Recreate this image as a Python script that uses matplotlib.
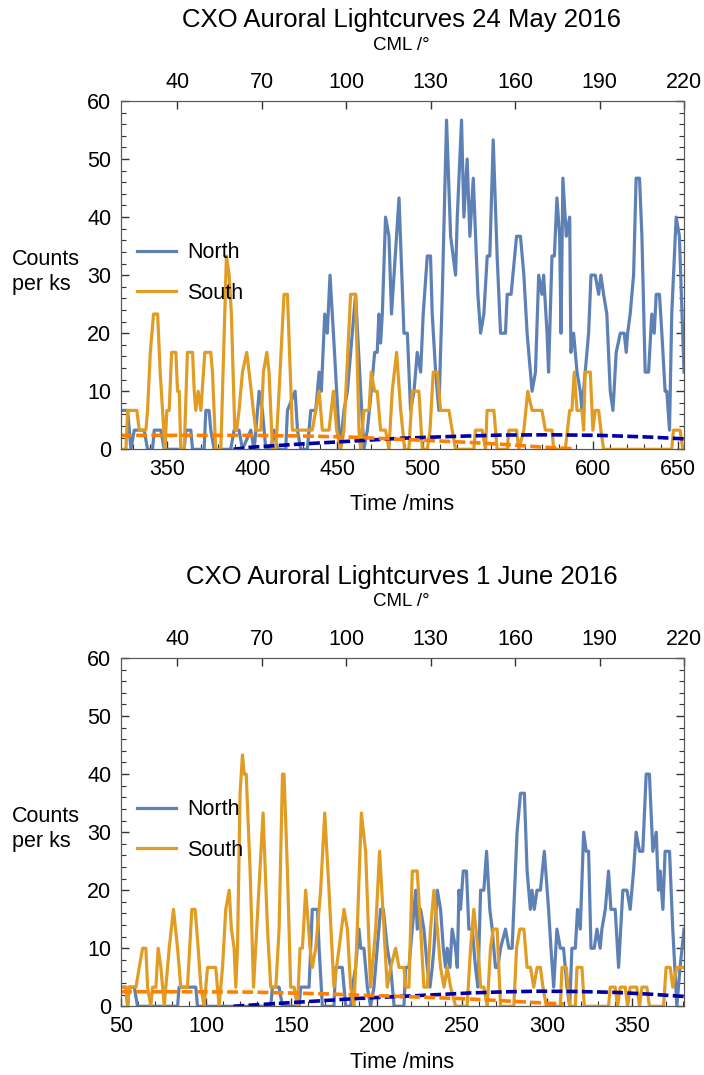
import numpy as np
import matplotlib
matplotlib.use("Agg")
import matplotlib.pyplot as plt
from matplotlib.ticker import MultipleLocator

plt.rcParams['font.family'] = ['Liberation Sans', 'DejaVu Sans']

# (time in mins, counts per ks) vertices
north_may = [(323.0, 6.7), (326.9, 6.7), (328.8, 0), (330.8, 3.3), (336.6, 3.3), (338.6, 0), (341.5, 0),
             (342.5, 3.3), (346.4, 3.3), (348.4, 0), (360.1, 0), (361.1, 3.3), (364.0, 3.3), (365.0, 0),
             (371.8, 0), (372.8, 6.7), (374.7, 6.7), (375.7, 3.3), (377.7, 0), (387.4, 0), (389.4, 3.3),
             (392.3, 3.3), (394.3, 0), (399.2, 3.3), (401.2, 0), (404.1, 10), (406.0, 6.7), (408.0, 0),
             (410.9, 0), (412.9, 3.3), (414.8, 0), (419.7, 0), (420.7, 6.7), (425.2, 10), (426.6, 3.3),
             (428.5, 0), (432.4, 0), (434.4, 6.7), (437.3, 6.7), (439.3, 13.3), (440.6, 10), (442.6, 23.3),
             (444.1, 20), (445.7, 30), (447.7, 20), (449.6, 10), (451.6, 0), (453.9, 6.7), (455.9, 10),
             (457.8, 16.7), (460.7, 26.7), (463.7, 10), (465.6, 0), (467.6, 3.3), (469.9, 10), (471.9, 16.7),
             (473.4, 16.7), (474.4, 23.3), (475.4, 18.3), (476.4, 23.3), (478.3, 40), (480.3, 36.7),
             (481.8, 23.3), (486.2, 43.3), (489.1, 20), (491.1, 20), (493.0, 6.7), (495.0, 10), (496.9, 16.7),
             (498.9, 13.3), (500.4, 23.3), (502.8, 33.3), (504.7, 33.3), (505.7, 23.3), (507.7, 13.3),
             (509.6, 6.7), (511.6, 26.7), (514.1, 56.7), (516.5, 36.7), (519.4, 30), (520.4, 40),
             (522.9, 56.7), (524.3, 40), (526.2, 50), (527.8, 36.7), (529.8, 46.7), (532.5, 26.7),
             (534.1, 20), (536.0, 23.3), (538.0, 33.3), (539.5, 33.3), (541.5, 53.3), (543.8, 33.3),
             (545.8, 20), (548.7, 20), (549.7, 26.7), (552.0, 26.7), (555.2, 36.7), (557.5, 36.7),
             (559.5, 30), (561.4, 20), (564.3, 10), (566.3, 13.3), (568.2, 30), (570.1, 26.7), (571.1, 30),
             (573.1, 20), (574.0, 13.3), (576.0, 33.3), (577.4, 33.3), (578.9, 43.3), (580.5, 36.7),
             (581.3, 20), (582.4, 46.7), (584.4, 36.7), (586.4, 40), (587.1, 16.7), (588.7, 20),
             (590.7, 13.3), (592.6, 10), (593.6, 6.7), (595.5, 13.3), (597.5, 20), (598.9, 30), (601.4, 30),
             (603.4, 26.7), (604.7, 30), (606.3, 26.7), (608.2, 23.3), (610.2, 10), (611.8, 6.7),
             (613.7, 16.7), (616.1, 20), (618.4, 20), (619.6, 16.7), (620.4, 20), (621.9, 23.3), (623.9, 30),
             (625.4, 46.7), (627.4, 46.7), (628.8, 36.7), (630.7, 13.3), (632.7, 13.3), (634.6, 23.3),
             (636.0, 20), (637.2, 26.7), (639.1, 26.7), (640.5, 20), (642.4, 10), (643.4, 10), (645.0, 3.3),
             (646.3, 23.3), (648.9, 40), (650.8, 36.7), (653.5, 13.3)]

south_may = [(323.0, 0), (325.9, 0), (326.9, 6.7), (332.3, 6.7), (333.7, 3.3), (337.6, 3.3), (338.6, 6.7),
             (340.2, 16.7), (342.1, 23.3), (344.5, 23.3), (346.0, 13.3), (348.8, 0), (349.9, 6.7),
             (351.3, 6.7), (352.7, 16.7), (355.2, 16.7), (356.2, 10), (357.2, 10), (358.1, 0), (360.1, 0),
             (362.0, 16.7), (365.0, 16.7), (366.0, 10), (366.9, 6.7), (368.3, 10), (369.9, 6.7),
             (372.2, 16.7), (375.7, 16.7), (376.7, 13.3), (378.6, 0), (381.6, 0), (384.9, 33.3), (386.5, 30),
             (387.8, 23.3), (389.8, 3.3), (390.9, 3.3), (392.3, 6.7), (394.3, 13.3), (396.8, 16.7),
             (398.2, 13.3), (400.7, 6.7), (402.1, 3.3), (405.1, 3.3), (406.6, 13.3), (408.6, 16.7),
             (409.9, 13.3), (411.9, 0), (413.9, 0), (415.8, 10), (418.7, 26.7), (420.7, 26.7), (423.6, 3.3),
             (435.3, 3.3), (439.3, 10), (441.2, 3.3), (445.1, 3.3), (447.7, 10), (449.6, 3.3), (452.0, 0),
             (453.9, 3.3), (457.8, 26.7), (460.7, 26.7), (462.7, 3.3), (463.7, 0), (465.6, 6.7), (468.6, 6.7),
             (469.9, 13.3), (471.9, 10), (473.4, 10), (475.4, 3.3), (478.3, 3.3), (480.3, 0), (482.2, 10),
             (484.8, 16.7), (487.2, 6.7), (489.5, 0), (492.0, 0), (494.0, 10), (497.9, 10), (499.9, 0),
             (502.8, 0), (504.4, 3.3), (506.3, 13.3), (508.7, 13.3), (510.6, 6.7), (515.5, 6.7), (517.4, 3.3),
             (519.4, 0), (530.1, 0), (531.1, 3.3), (535.0, 3.3), (537.0, 0), (537.9, 6.7), (541.9, 6.7),
             (543.8, 0), (549.7, 0), (550.7, 3.3), (555.2, 3.3), (556.5, 0), (559.5, 3.3), (561.8, 10),
             (564.3, 6.7), (570.1, 6.7), (572.1, 3.3), (576.0, 3.3), (577.0, 0), (583.8, 0), (586.4, 6.7),
             (587.7, 6.7), (589.1, 13.3), (590.7, 6.7), (593.6, 6.7), (594.6, 3.3), (595.5, 13.3),
             (598.5, 13.3), (600.0, 3.3), (601.4, 6.7), (603.4, 6.7), (604.7, 3.3), (606.3, 0), (646.3, 0),
             (647.3, 3.3), (651.2, 3.3), (652.8, 0), (653.5, 0)]

north_june = [(50.0, 3.3), (52.9, 3.3), (53.9, 0), (54.8, 3.3), (57.8, 3.3), (59.7, 0), (83.2, 0), (84.1, 3.3),
              (93.9, 3.3), (94.9, 0), (137.9, 0), (138.9, 3.3), (142.8, 3.3), (144.8, 0), (154.5, 0),
              (155.5, 3.3), (160.4, 3.3), (162.3, 16.7), (165.3, 16.7), (166.3, 10), (168.2, 0), (175.0, 0),
              (176.0, 6.7), (179.9, 6.7), (181.9, 0), (184.8, 0), (185.8, 3.3), (187.7, 6.7), (189.7, 13.3),
              (190.7, 10), (192.6, 10), (194.6, 3.3), (196.5, 0), (198.5, 3.3), (200.4, 10), (202.4, 16.7),
              (204.0, 16.7), (206.3, 10), (208.3, 6.7), (210.3, 0), (216.1, 0), (217.1, 6.7), (219.0, 6.7),
              (221.0, 13.3), (223.0, 20), (223.9, 13.3), (225.9, 16.7), (227.8, 13.3), (229.8, 6.7),
              (231.4, 3.3), (232.7, 6.7), (233.7, 10), (235.7, 20), (237.6, 16.7), (239.2, 10), (240.5, 6.7),
              (241.5, 10), (243.1, 6.7), (244.4, 13.3), (246.4, 10), (247.4, 6.7), (248.4, 20), (249.3, 16.7),
              (250.9, 23.3), (252.8, 23.3), (254.2, 13.3), (256.2, 13.3), (258.1, 6.7), (259.5, 3.3),
              (261.1, 20), (263.0, 20), (264.6, 26.7), (266.5, 16.7), (267.9, 13.3), (269.8, 6.7),
              (271.2, 6.7), (272.8, 10), (275.7, 13.3), (277.7, 10), (279.6, 10), (282.5, 30), (284.5, 36.7),
              (286.8, 36.7), (288.4, 23.3), (290.3, 16.7), (291.3, 20), (292.6, 16.7), (294.2, 20),
              (296.2, 20), (298.5, 26.7), (301.0, 16.7), (302.4, 10), (304.0, 3.3), (305.9, 13.3),
              (307.9, 10), (309.8, 10), (311.8, 3.3), (313.4, 0), (314.7, 10), (316.7, 10), (318.0, 16.7),
              (319.6, 13.3), (321.6, 30), (323.1, 26.7), (324.5, 26.7), (325.9, 10), (327.8, 10),
              (329.4, 13.3), (331.3, 10), (332.3, 13.3), (334.3, 16.7), (336.2, 23.3), (337.6, 16.7),
              (340.1, 16.7), (342.1, 6.7), (344.6, 20), (347.0, 20), (348.9, 16.7), (350.9, 23.3),
              (352.4, 30), (354.4, 26.7), (356.3, 26.7), (358.3, 40), (360.2, 40), (362.2, 26.7),
              (364.2, 30), (365.5, 20), (366.5, 23.3), (368.1, 16.7), (369.4, 26.7), (372.0, 26.7),
              (373.9, 13.3), (376.3, 0), (378.2, 6.7), (380.5, 13.3)]

south_june = [(50.0, 3.3), (52.9, 3.3), (53.9, 0), (54.8, 3.3), (58.8, 3.3), (60.7, 6.7), (62.7, 10),
              (64.6, 10), (65.6, 3.3), (67.5, 0), (68.5, 3.3), (70.5, 3.3), (71.8, 10), (73.4, 6.7),
              (74.4, 3.3), (75.4, 0), (76.3, 3.3), (78.3, 10), (80.8, 16.7), (83.2, 10), (85.1, 3.3),
              (89.0, 3.3), (91.6, 16.7), (93.5, 16.7), (95.3, 10), (96.9, 3.3), (98.8, 0), (100.8, 6.7),
              (105.6, 6.7), (107.6, 0), (109.6, 6.7), (111.5, 16.7), (113.5, 20), (114.8, 13.3), (116.4, 10),
              (117.4, 3.3), (118.4, 10), (119.9, 36.7), (121.3, 43.3), (122.3, 40), (123.5, 40),
              (125.8, 23.3), (127.8, 3.3), (133.4, 33.3), (136.0, 13.3), (137.9, 3.3), (140.9, 3.3),
              (142.8, 13.3), (144.8, 40), (145.7, 40), (147.7, 23.3), (149.6, 3.3), (151.6, 3.3), (153.6, 0),
              (155.1, 10), (156.5, 10), (158.4, 20), (161.0, 10), (162.3, 6.7), (164.3, 10), (167.2, 20),
              (169.6, 33.3), (172.1, 20), (175.0, 3.3), (178.0, 10), (180.9, 16.7), (182.9, 13.3),
              (184.8, 3.3), (186.8, 0), (188.7, 13.3), (191.1, 33.3), (193.6, 26.7), (196.5, 3.3),
              (199.5, 13.3), (201.8, 26.7), (204.4, 13.3), (206.3, 3.3), (208.3, 6.7), (211.2, 10),
              (213.2, 6.7), (216.1, 6.7), (217.1, 3.3), (219.0, 3.3), (221.0, 23.3), (223.9, 23.3),
              (225.9, 13.3), (227.8, 3.3), (229.8, 3.3), (231.7, 13.3), (233.7, 20), (235.7, 13.3),
              (237.6, 6.7), (239.6, 3.3), (241.5, 6.7), (243.5, 3.3), (246.4, 0), (253.2, 0), (255.2, 10),
              (257.1, 16.7), (259.5, 10), (261.1, 3.3), (263.0, 3.3), (265.0, 0), (266.9, 10), (268.5, 13.3),
              (270.8, 13.3), (272.8, 0), (280.6, 0), (282.2, 10), (284.1, 13.3), (286.5, 13.3), (288.4, 6.7),
              (290.4, 6.7), (292.3, 3.3), (294.3, 6.7), (296.2, 6.7), (297.7, 3.3), (299.7, 0), (307.9, 0),
              (308.9, 6.7), (311.4, 6.7), (313.4, 0), (316.7, 0), (317.7, 6.7), (320.6, 6.7), (322.0, 0),
              (336.2, 0), (337.2, 3.3), (340.1, 3.3), (341.5, 0), (343.1, 3.3), (346.0, 3.3), (347.4, 0),
              (348.9, 3.3), (352.8, 3.3), (354.4, 0), (355.8, 3.3), (358.7, 3.3), (360.2, 0), (368.5, 0),
              (370.0, 6.7), (372.4, 6.7), (373.9, 3.3), (376.3, 6.7), (380.5, 6.7)]

# background (dashed) curves
north_bg_may = [(389, 0), (399, 0.35), (428, 0.9), (458, 1.4), (487, 1.9), (516, 2.2), (546, 2.45),
                (575, 2.5), (604, 2.4), (634, 2.1), (653.5, 1.8)]
south_bg_may = [(323, 2.4), (399, 2.4), (428, 2.3), (458, 2.1), (481, 1.8), (505, 1.5), (530, 1.15),
                (550, 0.8), (569, 0.4), (589, 0.1)]
north_bg_june = [(116, 0), (126, 0.2), (148, 0.6), (170, 1.0), (192, 1.4), (214, 1.7), (235, 2.0),
                 (255, 2.3), (276, 2.5), (296, 2.6), (318, 2.55), (340, 2.4), (360, 2.1), (380.5, 1.7)]
south_bg_june = [(50, 2.5), (90, 2.5), (126, 2.45), (148, 2.3), (170, 2.15), (192, 1.9), (214, 1.7),
                 (233, 1.5), (252, 1.3), (274, 0.95), (296, 0.6), (310, 0.4)]

panels = [
    ("CXO Auroral Lightcurves 24 May 2016", (323.0, 653.5), [350, 400, 450, 500, 550, 600, 650],
     north_may, south_may, north_bg_may, south_bg_may),
    ("CXO Auroral Lightcurves 1 June 2016", (50.0, 380.5), [50, 100, 150, 200, 250, 300, 350],
     north_june, south_june, north_bg_june, south_bg_june),
]
cml_range = (20, 220)
cml_ticks = [40, 70, 100, 130, 160, 190, 220]

NORTH_C = "#5E81B5"
SOUTH_C = "#E19C24"
FS = 15.5
W, H = 704, 1075

fig = plt.figure(figsize=(W / 100, H / 100), dpi=100)
axes_top_px = [101, 658]

for i, (title, xlim, xticks, north, south, nbg, sbg) in enumerate(panels):
    top = axes_top_px[i]
    ax = fig.add_axes([121 / W, 1 - (top + 348.3) / H, 563 / W, 348.3 / H])

    t, v = np.array(north, dtype=float).T
    ax.plot(t, v, color=NORTH_C, lw=2.3, solid_joinstyle="round", label="North")
    t, v = np.array(south, dtype=float).T
    ax.plot(t, v, color=SOUTH_C, lw=2.3, solid_joinstyle="round", label="South")
    t, v = np.array(nbg, dtype=float).T
    ax.plot(t, v, color="#0000A8", lw=2.6, dashes=(3, 1.2))
    t, v = np.array(sbg, dtype=float).T
    ax.plot(t, v, color="#FF8000", lw=2.6, dashes=(3, 1.2))

    ax.set_xlim(*xlim)
    ax.set_ylim(0, 60)
    ax.set_xticks(xticks)
    ax.xaxis.set_minor_locator(MultipleLocator(10))
    ax.set_yticks(range(0, 61, 10))
    ax.yaxis.set_minor_locator(MultipleLocator(2))
    ax.tick_params(which="both", direction="in", top=False, right=True, labelsize=FS, color="0.2")
    ax.tick_params(which="major", length=6, width=1)
    ax.tick_params(which="minor", length=3.5, width=0.8)
    ax.tick_params(axis="x", pad=7)
    ax.tick_params(axis="y", pad=7)
    for s in ax.spines.values():
        s.set_color("0.35")

    axc = ax.twiny()
    axc.set_xlim(*cml_range)
    axc.set_xticks(cml_ticks)
    axc.tick_params(axis="x", direction="in", length=6, width=1, labelsize=FS, pad=6, color="0.2")
    for s in axc.spines.values():
        s.set_color("0.35")

    ax.legend(loc="center left", bbox_to_anchor=(0.028, 0.506), frameon=False, fontsize=FS,
              handlelength=1.8, handletextpad=0.55, labelspacing=0.9, borderpad=0, borderaxespad=0)

    fig.text(0.5706, 1 - (top - 81) / H, title, ha="center", va="center", fontsize=18.5)
    fig.text(0.5706, 1 - (top - 56) / H, "CML /°", ha="center", va="center", fontsize=13.5)
    fig.text(0.5706, 1 - (top + 404) / H, "Time /mins", ha="center", va="center", fontsize=FS)
    fig.text(12 / W, 1 - (top + 171) / H, "Counts\nper ks", ha="left", va="center", fontsize=FS,
             linespacing=1.2)

fig.savefig("out.png", dpi=100)
